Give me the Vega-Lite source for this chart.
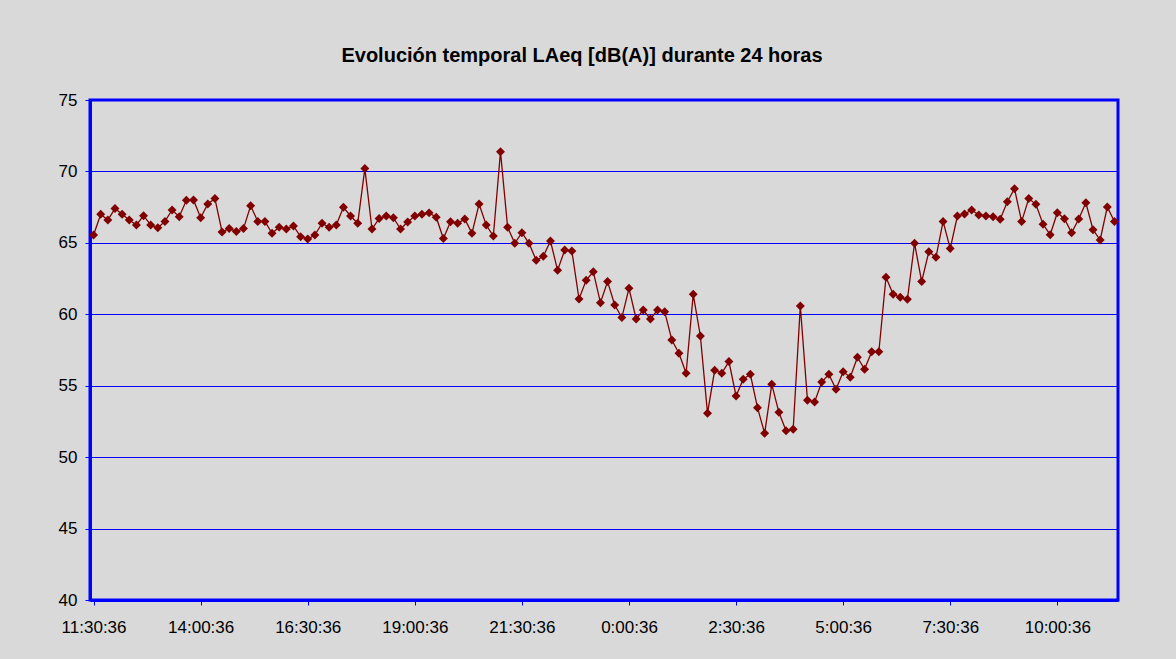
{
  "$schema": "https://vega.github.io/schema/vega-lite/v6.json",
  "autosize": "none",
  "width": 1028,
  "height": 500,
  "padding": {"left": 90, "top": 100, "right": 58, "bottom": 59},
  "background": "#d9d9d9",
  "title": {
    "text": "Evolución temporal LAeq [dB(A)] durante 24 horas",
    "font": "Liberation Sans",
    "fontSize": 20,
    "fontWeight": "bold",
    "color": "#000000",
    "anchor": "middle",
    "dx": -22,
    "offset": 25
  },
  "config": {
    "view": {"stroke": "#0000ff", "strokeWidth": 3, "fill": "#d9d9d9"},
    "axis": {
      "labelFont": "Liberation Sans",
      "labelFontSize": 17,
      "labelColor": "#000000",
      "domainColor": "#0000ff",
      "domainWidth": 3,
      "tickColor": "#0000ff",
      "tickWidth": 1,
      "tickSize": 5
    }
  },
  "data": {
    "values": [
      {"hora": "2024-01-01T11:30:36", "laeq": 65.55},
      {"hora": "2024-01-01T11:40:36", "laeq": 67.0},
      {"hora": "2024-01-01T11:50:36", "laeq": 66.6},
      {"hora": "2024-01-01T12:00:36", "laeq": 67.4},
      {"hora": "2024-01-01T12:10:36", "laeq": 67.0},
      {"hora": "2024-01-01T12:20:36", "laeq": 66.6},
      {"hora": "2024-01-01T12:30:36", "laeq": 66.25},
      {"hora": "2024-01-01T12:40:36", "laeq": 66.9},
      {"hora": "2024-01-01T12:50:36", "laeq": 66.25},
      {"hora": "2024-01-01T13:00:36", "laeq": 66.06},
      {"hora": "2024-01-01T13:10:36", "laeq": 66.5},
      {"hora": "2024-01-01T13:20:36", "laeq": 67.3},
      {"hora": "2024-01-01T13:30:36", "laeq": 66.83},
      {"hora": "2024-01-01T13:40:36", "laeq": 67.98},
      {"hora": "2024-01-01T13:50:36", "laeq": 68.0},
      {"hora": "2024-01-01T14:00:36", "laeq": 66.76},
      {"hora": "2024-01-01T14:10:36", "laeq": 67.72},
      {"hora": "2024-01-01T14:20:36", "laeq": 68.1},
      {"hora": "2024-01-01T14:30:36", "laeq": 65.76},
      {"hora": "2024-01-01T14:40:36", "laeq": 66.0},
      {"hora": "2024-01-01T14:50:36", "laeq": 65.8},
      {"hora": "2024-01-01T15:00:36", "laeq": 66.0},
      {"hora": "2024-01-01T15:10:36", "laeq": 67.6},
      {"hora": "2024-01-01T15:20:36", "laeq": 66.5},
      {"hora": "2024-01-01T15:30:36", "laeq": 66.5},
      {"hora": "2024-01-01T15:40:36", "laeq": 65.67},
      {"hora": "2024-01-01T15:50:36", "laeq": 66.1},
      {"hora": "2024-01-01T16:00:36", "laeq": 65.97},
      {"hora": "2024-01-01T16:10:36", "laeq": 66.18},
      {"hora": "2024-01-01T16:20:36", "laeq": 65.43},
      {"hora": "2024-01-01T16:30:36", "laeq": 65.27},
      {"hora": "2024-01-01T16:40:36", "laeq": 65.55},
      {"hora": "2024-01-01T16:50:36", "laeq": 66.37},
      {"hora": "2024-01-01T17:00:36", "laeq": 66.09},
      {"hora": "2024-01-01T17:10:36", "laeq": 66.25},
      {"hora": "2024-01-01T17:20:36", "laeq": 67.49},
      {"hora": "2024-01-01T17:30:36", "laeq": 66.88},
      {"hora": "2024-01-01T17:40:36", "laeq": 66.37},
      {"hora": "2024-01-01T17:50:36", "laeq": 70.2},
      {"hora": "2024-01-01T18:00:36", "laeq": 65.97},
      {"hora": "2024-01-01T18:10:36", "laeq": 66.7},
      {"hora": "2024-01-01T18:20:36", "laeq": 66.88},
      {"hora": "2024-01-01T18:30:36", "laeq": 66.76},
      {"hora": "2024-01-01T18:40:36", "laeq": 65.97},
      {"hora": "2024-01-01T18:50:36", "laeq": 66.46},
      {"hora": "2024-01-01T19:00:36", "laeq": 66.88},
      {"hora": "2024-01-01T19:10:36", "laeq": 67.0},
      {"hora": "2024-01-01T19:20:36", "laeq": 67.1},
      {"hora": "2024-01-01T19:30:36", "laeq": 66.79},
      {"hora": "2024-01-01T19:40:36", "laeq": 65.3},
      {"hora": "2024-01-01T19:50:36", "laeq": 66.48},
      {"hora": "2024-01-01T20:00:36", "laeq": 66.37},
      {"hora": "2024-01-01T20:10:36", "laeq": 66.67},
      {"hora": "2024-01-01T20:20:36", "laeq": 65.67},
      {"hora": "2024-01-01T20:30:36", "laeq": 67.72},
      {"hora": "2024-01-01T20:40:36", "laeq": 66.25},
      {"hora": "2024-01-01T20:50:36", "laeq": 65.48},
      {"hora": "2024-01-01T21:00:36", "laeq": 71.38},
      {"hora": "2024-01-01T21:10:36", "laeq": 66.09},
      {"hora": "2024-01-01T21:20:36", "laeq": 64.97},
      {"hora": "2024-01-01T21:30:36", "laeq": 65.71},
      {"hora": "2024-01-01T21:40:36", "laeq": 64.97},
      {"hora": "2024-01-01T21:50:36", "laeq": 63.78},
      {"hora": "2024-01-01T22:00:36", "laeq": 64.06},
      {"hora": "2024-01-01T22:10:36", "laeq": 65.13},
      {"hora": "2024-01-01T22:20:36", "laeq": 63.08},
      {"hora": "2024-01-01T22:30:36", "laeq": 64.5},
      {"hora": "2024-01-01T22:40:36", "laeq": 64.43},
      {"hora": "2024-01-01T22:50:36", "laeq": 61.07},
      {"hora": "2024-01-01T23:00:36", "laeq": 62.38},
      {"hora": "2024-01-01T23:10:36", "laeq": 62.98},
      {"hora": "2024-01-01T23:20:36", "laeq": 60.81},
      {"hora": "2024-01-01T23:30:36", "laeq": 62.29},
      {"hora": "2024-01-01T23:40:36", "laeq": 60.65},
      {"hora": "2024-01-01T23:50:36", "laeq": 59.77},
      {"hora": "2024-01-02T00:00:36", "laeq": 61.82},
      {"hora": "2024-01-02T00:10:36", "laeq": 59.67},
      {"hora": "2024-01-02T00:20:36", "laeq": 60.3},
      {"hora": "2024-01-02T00:30:36", "laeq": 59.67},
      {"hora": "2024-01-02T00:40:36", "laeq": 60.3},
      {"hora": "2024-01-02T00:50:36", "laeq": 60.18},
      {"hora": "2024-01-02T01:00:36", "laeq": 58.2},
      {"hora": "2024-01-02T01:10:36", "laeq": 57.27},
      {"hora": "2024-01-02T01:20:36", "laeq": 55.87},
      {"hora": "2024-01-02T01:30:36", "laeq": 61.4},
      {"hora": "2024-01-02T01:40:36", "laeq": 58.48},
      {"hora": "2024-01-02T01:50:36", "laeq": 53.07},
      {"hora": "2024-01-02T02:00:36", "laeq": 56.08},
      {"hora": "2024-01-02T02:10:36", "laeq": 55.87},
      {"hora": "2024-01-02T02:20:36", "laeq": 56.69},
      {"hora": "2024-01-02T02:30:36", "laeq": 54.28},
      {"hora": "2024-01-02T02:40:36", "laeq": 55.45},
      {"hora": "2024-01-02T02:50:36", "laeq": 55.8},
      {"hora": "2024-01-02T03:00:36", "laeq": 53.46},
      {"hora": "2024-01-02T03:10:36", "laeq": 51.67},
      {"hora": "2024-01-02T03:20:36", "laeq": 55.1},
      {"hora": "2024-01-02T03:30:36", "laeq": 53.14},
      {"hora": "2024-01-02T03:40:36", "laeq": 51.85},
      {"hora": "2024-01-02T03:50:36", "laeq": 51.95},
      {"hora": "2024-01-02T04:00:36", "laeq": 60.58},
      {"hora": "2024-01-02T04:10:36", "laeq": 53.98},
      {"hora": "2024-01-02T04:20:36", "laeq": 53.86},
      {"hora": "2024-01-02T04:30:36", "laeq": 55.26},
      {"hora": "2024-01-02T04:40:36", "laeq": 55.8},
      {"hora": "2024-01-02T04:50:36", "laeq": 54.75},
      {"hora": "2024-01-02T05:00:36", "laeq": 55.98},
      {"hora": "2024-01-02T05:10:36", "laeq": 55.59},
      {"hora": "2024-01-02T05:20:36", "laeq": 56.99},
      {"hora": "2024-01-02T05:30:36", "laeq": 56.15},
      {"hora": "2024-01-02T05:40:36", "laeq": 57.38},
      {"hora": "2024-01-02T05:50:36", "laeq": 57.38},
      {"hora": "2024-01-02T06:00:36", "laeq": 62.59},
      {"hora": "2024-01-02T06:10:36", "laeq": 61.4},
      {"hora": "2024-01-02T06:20:36", "laeq": 61.19},
      {"hora": "2024-01-02T06:30:36", "laeq": 61.05},
      {"hora": "2024-01-02T06:40:36", "laeq": 64.97},
      {"hora": "2024-01-02T06:50:36", "laeq": 62.29},
      {"hora": "2024-01-02T07:00:36", "laeq": 64.38},
      {"hora": "2024-01-02T07:10:36", "laeq": 63.99},
      {"hora": "2024-01-02T07:20:36", "laeq": 66.5},
      {"hora": "2024-01-02T07:30:36", "laeq": 64.6},
      {"hora": "2024-01-02T07:40:36", "laeq": 66.88},
      {"hora": "2024-01-02T07:50:36", "laeq": 67.02},
      {"hora": "2024-01-02T08:00:36", "laeq": 67.3},
      {"hora": "2024-01-02T08:10:36", "laeq": 66.95},
      {"hora": "2024-01-02T08:20:36", "laeq": 66.88},
      {"hora": "2024-01-02T08:30:36", "laeq": 66.83},
      {"hora": "2024-01-02T08:40:36", "laeq": 66.65},
      {"hora": "2024-01-02T08:50:36", "laeq": 67.88},
      {"hora": "2024-01-02T09:00:36", "laeq": 68.79},
      {"hora": "2024-01-02T09:10:36", "laeq": 66.49},
      {"hora": "2024-01-02T09:20:36", "laeq": 68.1},
      {"hora": "2024-01-02T09:30:36", "laeq": 67.7},
      {"hora": "2024-01-02T09:40:36", "laeq": 66.3},
      {"hora": "2024-01-02T09:50:36", "laeq": 65.57},
      {"hora": "2024-01-02T10:00:36", "laeq": 67.11},
      {"hora": "2024-01-02T10:10:36", "laeq": 66.69},
      {"hora": "2024-01-02T10:20:36", "laeq": 65.71},
      {"hora": "2024-01-02T10:30:36", "laeq": 66.67},
      {"hora": "2024-01-02T10:40:36", "laeq": 67.81},
      {"hora": "2024-01-02T10:50:36", "laeq": 65.92},
      {"hora": "2024-01-02T11:00:36", "laeq": 65.2},
      {"hora": "2024-01-02T11:10:36", "laeq": 67.51},
      {"hora": "2024-01-02T11:20:36", "laeq": 66.49}
    ]
  },
  "mark": {
    "type": "line",
    "color": "#800000",
    "strokeWidth": 1.3,
    "point": {"shape": "diamond", "size": 80, "filled": true, "color": "#800000", "opacity": 1}
  },
  "encoding": {
    "x": {
      "field": "hora",
      "type": "temporal",
      "scale": {
        "nice": false,
        "domain": [
          {"year": 2024, "month": 1, "date": 1, "hours": 11, "minutes": 25, "seconds": 36},
          {"year": 2024, "month": 1, "date": 2, "hours": 11, "minutes": 25, "seconds": 36}
        ]
      },
      "axis": {
        "title": null,
        "grid": false,
        "format": "%-H:%M:%S",
        "labelAngle": 0,
        "labelPadding": 14,
        "labelOverlap": false,
        "labelFlush": false,
        "values": [
          {"year": 2024, "month": 1, "date": 1, "hours": 11, "minutes": 30, "seconds": 36},
          {"year": 2024, "month": 1, "date": 1, "hours": 14, "minutes": 0, "seconds": 36},
          {"year": 2024, "month": 1, "date": 1, "hours": 16, "minutes": 30, "seconds": 36},
          {"year": 2024, "month": 1, "date": 1, "hours": 19, "minutes": 0, "seconds": 36},
          {"year": 2024, "month": 1, "date": 1, "hours": 21, "minutes": 30, "seconds": 36},
          {"year": 2024, "month": 1, "date": 2, "hours": 0, "minutes": 0, "seconds": 36},
          {"year": 2024, "month": 1, "date": 2, "hours": 2, "minutes": 30, "seconds": 36},
          {"year": 2024, "month": 1, "date": 2, "hours": 5, "minutes": 0, "seconds": 36},
          {"year": 2024, "month": 1, "date": 2, "hours": 7, "minutes": 30, "seconds": 36},
          {"year": 2024, "month": 1, "date": 2, "hours": 10, "minutes": 0, "seconds": 36}
        ]
      }
    },
    "y": {
      "field": "laeq",
      "type": "quantitative",
      "scale": {"domain": [40, 75], "nice": false, "zero": false},
      "axis": {
        "title": null,
        "values": [40, 45, 50, 55, 60, 65, 70, 75],
        "grid": true,
        "gridColor": "#0000ff",
        "gridWidth": 1,
        "gridOpacity": 1,
        "labelPadding": 8
      }
    }
  }
}
